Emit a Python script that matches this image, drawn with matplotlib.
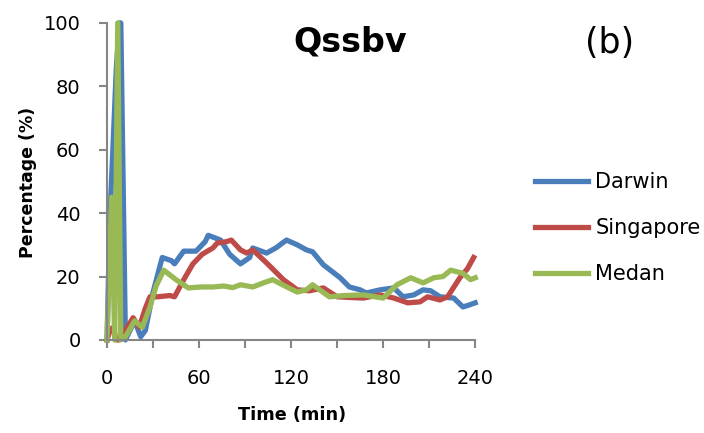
import matplotlib.pyplot as plt
import numpy as np

plt.rcParams['font.family'] = ['DejaVu Sans']

# time (min) and percentage per station
t_darwin = [0, 2, 4, 6, 8, 9, 12, 15, 18, 22, 25, 30, 36, 42, 44, 50, 58, 64, 66, 74, 80, 87, 93, 95, 104,
            110, 117, 124, 130, 134, 141, 152, 158, 165, 169, 178, 187, 193, 200, 206, 211, 217, 226, 232, 236, 240]
v_darwin = [0, 40, 62, 85, 100, 100, 0, 3, 6, 1, 3, 15, 26, 25, 24, 28, 28, 31, 33, 31.5, 27, 24, 26, 29, 27.4,
            29, 31.5, 30, 28.4, 27.8, 23.7, 19.6, 16.7, 15.8, 14.8, 15.8, 16.4, 13.6, 14.2, 15.8, 15.5, 13.6, 13.2, 10.4, 11, 11.7]

t_singapore = [0, 2, 4, 6, 8, 12, 17, 21, 25, 28, 33, 41, 44, 50, 56, 62, 69, 72, 78, 81, 87, 91, 95, 104,
               115, 124, 132, 141, 150, 158, 167, 178, 187, 196, 204, 209, 217, 222, 230, 235, 239]
v_singapore = [0, 3, 4, 0, 0, 3, 7, 4, 10, 13.6, 13.6, 14, 13.6, 19, 24, 27, 29, 30.6, 31, 31.5, 28.4, 27.4, 28.4, 24.3,
               19, 15.8, 15.5, 16.4, 13.6, 13.4, 13.2, 14.2, 13.2, 11.7, 12, 13.6, 12.6, 13.6, 19.6, 22.5, 26]

t_medan = [0, 3, 5, 7, 9, 12, 18, 23, 28, 32, 37, 45, 53, 61, 69, 76, 82, 87, 95, 102, 108, 116, 124, 130, 134,
           145, 155, 167, 180, 189, 198, 206, 213, 219, 224, 232, 237, 240]
v_medan = [0, 45, 0, 100, 0, 1, 6, 4, 10.4, 17, 22, 19, 16.4, 16.7, 16.7, 17, 16.5, 17.4, 16.7, 18, 19, 17, 15.1, 15.8, 17.4,
           13.6, 14, 14.2, 13.2, 17.4, 19.6, 18, 19.6, 20, 22, 21, 19, 19.6]

fig = plt.figure(figsize=(7.04, 4.33), dpi=100)
ax = fig.add_axes([0.152, 0.215, 0.523, 0.732])

ax.plot(t_darwin, v_darwin, color='#4A7EBB', lw=3.8, label='Darwin', clip_on=False)
ax.plot(t_singapore, v_singapore, color='#BE4B48', lw=3.8, label='Singapore', clip_on=False)
ax.plot(t_medan, v_medan, color='#98B954', lw=3.8, label='Medan', clip_on=False)

ax.set_xlim(0, 240)
ax.set_ylim(0, 100)
ax.set_xticks(np.arange(0, 241, 30))
ax.set_xticklabels(['0', '', '60', '', '120', '', '180', '', '240'])
ax.set_yticks(np.arange(0, 101, 20))
for s in ['top', 'right']:
    ax.spines[s].set_visible(False)
for s in ['left', 'bottom']:
    ax.spines[s].set_color('#868686')
    ax.spines[s].set_linewidth(1.5)
ax.tick_params(axis='both', colors='#868686', labelcolor='black', labelsize=14, length=6, width=1.5)
ax.tick_params(axis='x', pad=15)
ax.tick_params(axis='y', pad=13)

ax.set_xlabel('Time (min)', fontsize=12.7, fontweight='bold')
ax.set_ylabel('Percentage (%)', fontsize=12.5, fontweight='bold')
ax.xaxis.set_label_coords(0.503, -0.208)
ax.yaxis.set_label_coords(-0.19, 0.498)

fig.text(0.497, 0.88, 'Qssbv', fontsize=24, fontweight='bold', ha='center', va='baseline')
fig.text(0.866, 0.878, '(b)', fontsize=25, ha='center', va='baseline')

ax.legend(loc='center left', bbox_to_anchor=(0.76, 0.473), bbox_transform=fig.transFigure,
          frameon=False, fontsize=15, borderpad=0, borderaxespad=0,
          handlelength=2.55, handletextpad=0.35, labelspacing=1.25)

plt.savefig('out.png', dpi=100)
